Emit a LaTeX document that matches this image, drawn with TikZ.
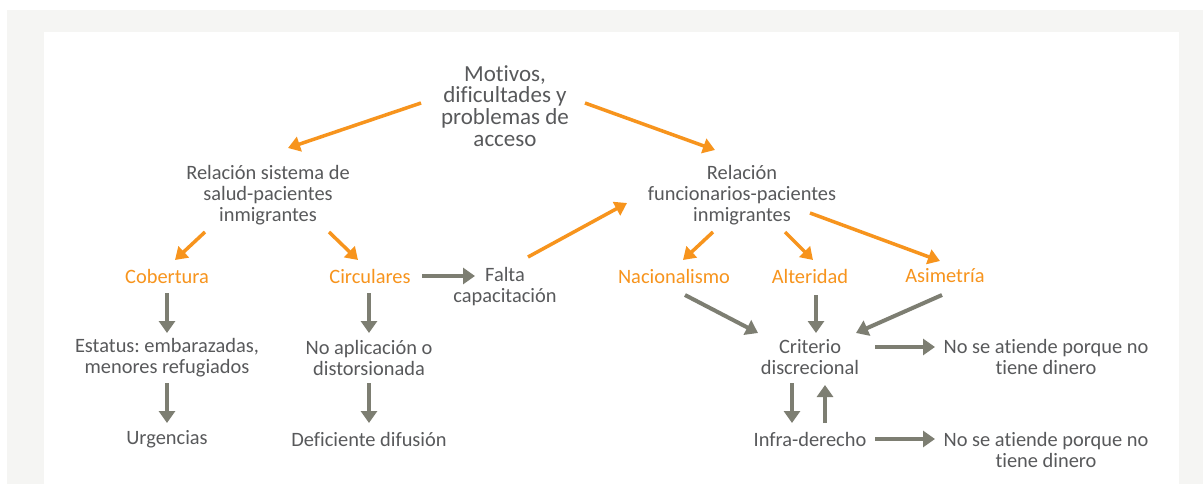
\documentclass[tikz,border=0pt]{standalone}
\usepackage{fontspec}
\setmainfont{Carlito}[RawFeature={-liga;-dlig;-clig}]
\frenchspacing
\usetikzlibrary{arrows.meta}
\definecolor{txt}{HTML}{58595B}
\definecolor{org}{HTML}{F7941D}
\definecolor{gar}{HTML}{7D7E72}
\definecolor{band}{HTML}{F5F5F3}
\tikzset{
  lbl/.style={align=center,inner sep=0pt,text=txt,font=\fontsize{20.4}{21}\selectfont},
  olbl/.style={lbl,text=org},
  big/.style={lbl,font=\fontsize{23}{21.7}\selectfont},
  oa/.style={draw=org,line width=3.5pt,-{Triangle[length=12pt,width=15pt]},fill=org},
  ga/.style={draw=gar,line width=4pt,-{Triangle[length=12pt,width=16pt]},fill=gar}
}
\begin{document}
\begin{tikzpicture}[x=1pt,y=-1pt]
\useasboundingbox (0,0) rectangle (1203,484);
\fill[white] (0,0) rectangle (1203,484);
\fill[band] (7,10) rectangle (1203,484);
\fill[white] (44,32) rectangle (1179,484);

\node[big] (mot) at (505,106) {Motivos,\\dificultades y\\problemas de\\acceso};
\node[lbl] (rs) at (268,195) {Relación sistema de\\salud-pacientes\\inmigrantes};
\node[lbl] (rf) at (742,195) {Relación\\funcionarios-pacientes\\inmigrantes};
\node[olbl] (cob) at (167,276) {Cobertura};
\node[olbl] (circ) at (370,276) {Circulares};
\node[lbl] (falta) at (505,287) {Falta\\capacitación};
\node[olbl] (nac) at (674,276) {Nacionalismo};
\node[olbl] (alt) at (810,276) {Alteridad};
\node[olbl] (asim) at (945,276) {Asimetría};
\node[lbl] (est) at (167,357.5) {Estatus: embarazadas,\\menores refugiados};
\node[lbl] (noap) at (369,357.5) {No aplicación o\\distorsionada};
\node[lbl] (urg) at (167,439) {Urgencias};
\node[lbl] (defd) at (369,439) {Deficiente difusión};
\node[lbl] (crit) at (810,357) {Criterio\\discrecional};
\node[lbl] (infra) at (810,439) {Infra-derecho};
\node[lbl] (no1) at (1046,357) {No se atiende porque no\\tiene dinero};
\node[lbl] (no2) at (1046,450) {No se atiende porque no\\tiene dinero};

% orange arrows
\draw[oa] ([shift={(-84,-3)}]mot.center) -- ([shift={(20,-47)}]rs.center);
\draw[oa] ([shift={(80,-3)}]mot.center) -- ([shift={(-27,-45)}]rf.center);
\draw[oa] ([shift={(-63,37)}]rs.center) -- ([shift={(8,-16)}]cob.center);
\draw[oa] ([shift={(61,37)}]rs.center) -- ([shift={(-12,-16)}]circ.center);
\draw[oa] ([shift={(23,-30)}]falta.center) -- ([shift={(-115,8)}]rf.center);
\draw[oa] ([shift={(-29,37)}]rf.center) -- ([shift={(9,-16)}]nac.center);
\draw[oa] ([shift={(43,37)}]rf.center) -- ([shift={(3,-16)}]alt.center);
\draw[oa] ([shift={(68,18)}]rf.center) -- ([shift={(-5,-15)}]asim.center);

% gray arrows
\draw[ga] ([shift={(52,0)}]circ.center) -- ([shift={(-30,-11)}]falta.center);
\draw[ga] ([shift={(0,17)}]cob.center) -- ([shift={(0,-24.5)}]est.center);
\draw[ga] ([shift={(0,25.5)}]est.center) -- ([shift={(0,-16)}]urg.center);
\draw[ga] ([shift={(-1,17)}]circ.center) -- ([shift={(0,-24.5)}]noap.center);
\draw[ga] ([shift={(0,25.5)}]noap.center) -- ([shift={(0,-16)}]defd.center);
\draw[ga] ([shift={(11,19)}]nac.center) -- ([shift={(-52,-24)}]crit.center);
\draw[ga] ([shift={(6,19)}]alt.center) -- ([shift={(6,-24)}]crit.center);
\draw[ga] ([shift={(-3,19)}]asim.center) -- ([shift={(46,-24)}]crit.center);
\draw[ga] ([shift={(65,-10)}]crit.center) -- ([shift={(-111,-10)}]no1.center);
\draw[ga] ([shift={(-18,26)}]crit.center) -- ([shift={(-18,-16)}]infra.center);
\draw[ga] ([shift={(15,-16)}]infra.center) -- ([shift={(15,28)}]crit.center);
\draw[ga] ([shift={(65,0)}]infra.center) -- ([shift={(-111,-11)}]no2.center);
\end{tikzpicture}
\end{document}
